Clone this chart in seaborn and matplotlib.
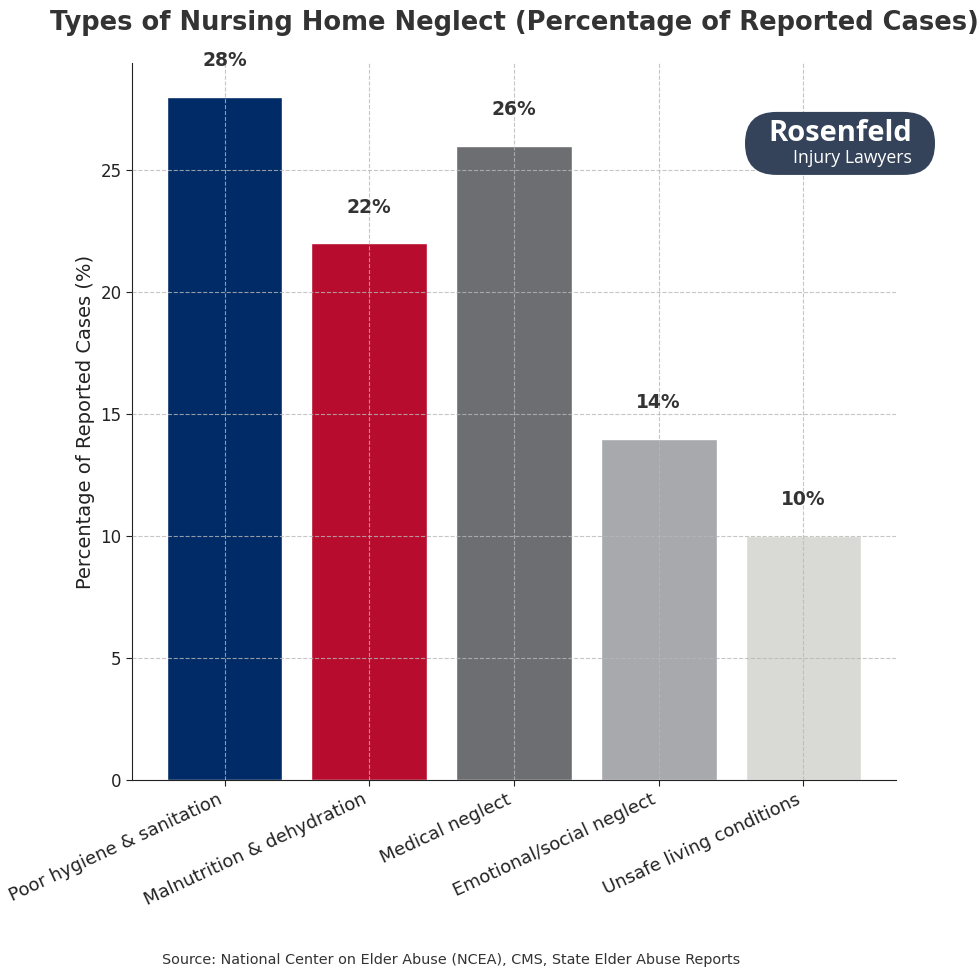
import matplotlib
matplotlib.use("Agg")
import matplotlib.pyplot as plt
import seaborn as sns
import pandas as pd
from matplotlib.patches import FancyBboxPatch

# data
categories = ["Poor hygiene & sanitation", "Malnutrition & dehydration",
              "Medical neglect", "Emotional/social neglect", "Unsafe living conditions"]
percentages = [28, 22, 26, 14, 10]
bar_colors = ["#002B66", "#B80C2E", "#6D6E71", "#A7A9AC", "#D9DAD5"]

df = pd.DataFrame({"category": categories, "pct": percentages})

sns.set_style("white")
plt.rcParams["font.family"] = ["DejaVu Sans"]

fig = plt.figure(figsize=(9.8, 9.8), dpi=100)
ax = fig.add_axes([0.1347, 0.2041, 0.7796, 0.7316])

sns.barplot(data=df, x="category", y="pct", hue="category", palette=bar_colors,
            legend=False, width=0.8, saturation=1, ax=ax)
ax.set_xlim(-0.64, 4.64)
ax.set_ylim(0, 29.4)

for i, v in enumerate(percentages):
    ax.text(i, v + 1.1, f"{v}%", ha="center", va="bottom",
            fontsize=13.5, fontweight="bold", color="#333333")

ax.grid(True, linestyle="--", color="#b8b8b8", linewidth=0.8, alpha=0.8)
ax.set_axisbelow(False)
sns.despine(ax=ax)
ax.spines["left"].set_color("#222222")
ax.spines["bottom"].set_color("#222222")
ax.tick_params(axis="both", direction="out", length=4, labelsize=12, colors="#222222", left=True, bottom=True)
ax.tick_params(axis="x", labelsize=13)
ax.set_yticks([0, 5, 10, 15, 20, 25])
plt.setp(ax.get_xticklabels(), rotation=25, ha="right")

ax.set_xlabel("")
ax.set_ylabel("Percentage of Reported Cases (%)", fontsize=14, color="#222222")
ax.set_title("Types of Nursing Home Neglect (Percentage of Reported Cases)",
             fontsize=18.5, fontweight="bold", color="#333333", pad=24)

# logo badge
box = FancyBboxPatch((0.7602 + 0.02, 0.8215 + 0.02), 0.1939 - 0.04, 0.0643 - 0.04,
                     boxstyle="round,pad=0.02,rounding_size=0.032",
                     transform=fig.transFigure, facecolor="#34435A", edgecolor="none")
fig.patches.append(box)
fig.text(0.9306, 0.864, "Rosenfeld", ha="right", va="center", fontsize=21,
         fontweight="bold", color="white", family=["Open Sans", "DejaVu Sans"])
fig.text(0.9306, 0.839, "Injury Lawyers", ha="right", va="center", fontsize=12.7,
         color="white", family=["Open Sans", "DejaVu Sans"])

fig.text(0.46, 0.02, "Source: National Center on Elder Abuse (NCEA), CMS, State Elder Abuse Reports",
         ha="center", va="center", fontsize=10.4, color="#333333")

fig.savefig("out.png", dpi=100)
